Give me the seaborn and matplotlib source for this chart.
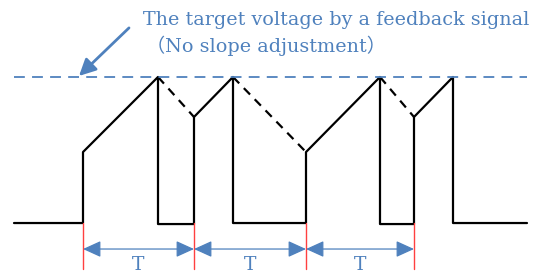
import numpy as np
import seaborn as sns
import matplotlib.pyplot as plt
import pandas as pd

# waveform (time in px-like units, voltage normalised: 0 = low, 1 = target)
wave_t = [14, 83, 83, 158, 158, 194, 194, 233, 233, 306, 306, 380, 380, 414, 414, 453, 453, 527]
wave_v = [0, 0, 0.486, 1, -0.007, -0.007, 0.726, 1, 0, 0, 0.486, 1, -0.007, -0.007, 0.726, 1, 0, 0]

# dashed decay segments (peak -> next start)
decay_t0 = [158, 233, 380]
decay_t1 = [194, 306, 414]
decay_v1 = [0.726, 0.486, 0.726]

period_edges = [83, 194, 306, 414]
period_labels = ["T", "T", "T"]

target_v = 1.0
target_span = [14, 527]

note_line1 = "The target voltage by a feedback signal"
note_line2 = "（No slope adjustment）"

BLUE = "#4F81BD"

sns.set_style("white")
plt.rcParams["font.family"] = ["DejaVu Serif", "Noto Sans CJK JP"]

fig = plt.figure(figsize=(5.34, 2.74), dpi=100)
ax = fig.add_axes([0, 0, 1, 1])

df = pd.DataFrame({"t": wave_t, "v": wave_v})
sns.lineplot(data=df, x="t", y="v", sort=False, estimator=None, color="black",
             lw=1.6, ax=ax)

for t0, t1, v1 in zip(decay_t0, decay_t1, decay_v1):
    d = pd.DataFrame({"t": [t0, t1], "v": [1, v1]})
    sns.lineplot(data=d, x="t", y="v", sort=False, estimator=None, color="black",
                 lw=1.6, ax=ax, linestyle=(0, (4, 3)))

ax.plot(target_span, [target_v, target_v], color=BLUE, lw=1.3, linestyle=(0, (6, 4)))

# period markers
for x in period_edges:
    ax.plot([x, x], [0, -0.315], color="#FF4040", lw=1.0)
for i, lab in enumerate(period_labels):
    a, b = period_edges[i], period_edges[i + 1]
    ax.annotate("", xy=(a, -0.178), xytext=(b, -0.178),
                arrowprops=dict(arrowstyle="<|-|>,head_length=1.1,head_width=0.5",
                                color=BLUE, lw=0.9, shrinkA=0, shrinkB=0))
    ax.text((a + b) / 2, -0.29, lab, color=BLUE, fontsize=13.5, ha="center", va="center")

ax.text(143, 1.39, note_line1, color=BLUE, fontsize=13.8, ha="left", va="center")
ax.text(146, 1.215, note_line2, color=BLUE, fontsize=13.8, ha="left", va="center")

ax.annotate("", xy=(79, 1.007), xytext=(129, 1.336),
            arrowprops=dict(arrowstyle="-|>,head_length=1.0,head_width=0.5",
                            color=BLUE, lw=2, shrinkA=0, shrinkB=0))

ax.set_xlim(0, 534)
ax.set_ylim(-0.349, 1.527)
ax.axis("off")

fig.savefig("out.png", dpi=100)
